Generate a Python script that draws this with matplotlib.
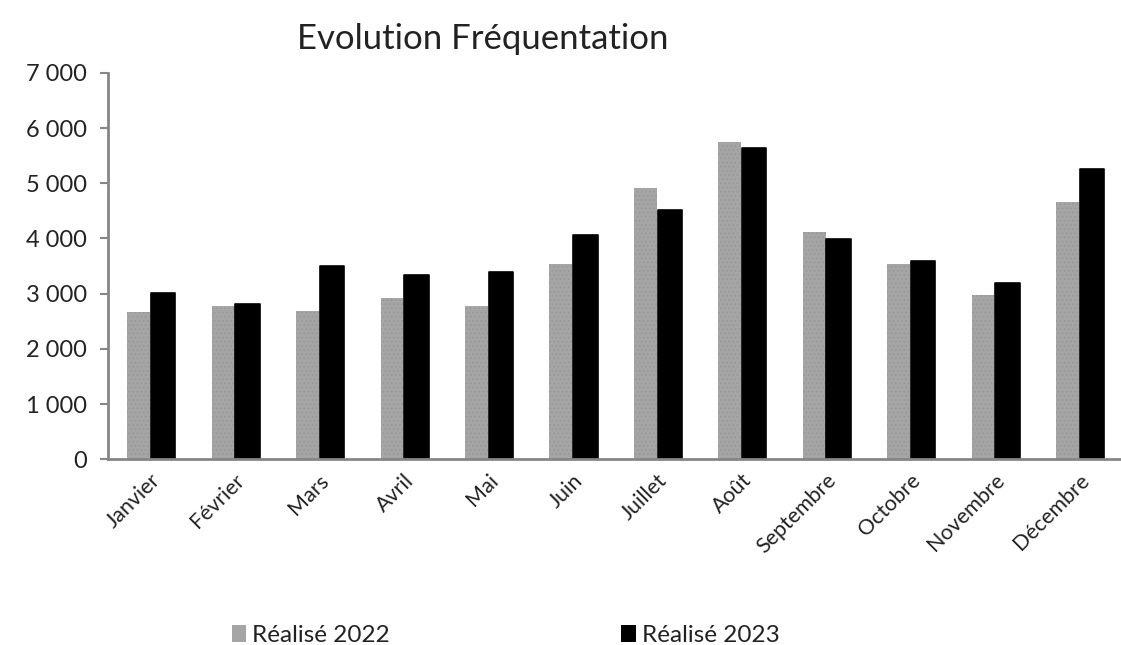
import numpy as np
import matplotlib.pyplot as plt
from matplotlib.patches import Patch
from matplotlib.ticker import FuncFormatter

mois = ['Janvier', 'Février', 'Mars', 'Avril', 'Mai', 'Juin', 'Juillet',
        'Août', 'Septembre', 'Octobre', 'Novembre', 'Décembre']
realise_2022 = [2670, 2775, 2690, 2920, 2775, 3540, 4920, 5740, 4120, 3530, 2975, 4655]
realise_2023 = [3020, 2805, 3500, 3340, 3390, 4060, 4520, 5640, 3990, 3590, 3200, 5250]
y_ticks = [0, 1000, 2000, 3000, 4000, 5000, 6000, 7000]

plt.rcParams['font.family'] = ['Lato', 'DejaVu Sans']
plt.rcParams['hatch.linewidth'] = 0.6

fig = plt.figure(figsize=(11.21, 6.45), dpi=100)
ax = fig.add_axes([0.0963, 0.288, 0.9037, 0.599])

x = np.arange(len(mois))
w = 0.27
ax.bar(x - w / 2, realise_2022, width=w, color='#a5a5a5', hatch='....',
       edgecolor='#979797', linewidth=0)
ax.bar(x + w / 2 + 0.02, realise_2023, width=w + 0.02, color='black',
       edgecolor='black', linewidth=1.2, joinstyle='round')

ax.set_xlim(-0.5, 11.5)
ax.set_ylim(0, 7000)
ax.set_yticks(y_ticks)
ax.yaxis.set_major_formatter(FuncFormatter(lambda v, p: f'{int(v):,}'.replace(',', ' ')))
ax.tick_params(axis='y', labelsize=17, length=6, width=1.5, color='#868686',
               pad=9, labelcolor='#222222')
ax.set_xticks(x)
ax.set_xticklabels(mois, rotation=45, ha='right', rotation_mode='anchor')
ax.tick_params(axis='x', labelsize=15.5, length=0, pad=8, labelcolor='#222222')

for side in ['top', 'right']:
    ax.spines[side].set_visible(False)
for side in ['left', 'bottom']:
    ax.spines[side].set_color('#868686')
    ax.spines[side].set_linewidth(2)

fig.text(0.431, 0.94, 'Evolution Fréquentation', ha='center', va='center',
         fontsize=25, color='#222222')

handles = [Patch(facecolor='#a5a5a5', edgecolor='none', label='Réalisé 2022'),
           Patch(facecolor='black', edgecolor='none', label='Réalisé 2023')]
fig.legend(handles=handles, loc='center', bbox_to_anchor=(0.451, 0.015),
           ncol=2, frameon=False, fontsize=17.5, handlelength=0.6, handleheight=0.7,
           handletextpad=0.25, columnspacing=9.5, labelcolor='#222222')

plt.savefig('out.png', dpi=100)
plt.close()
